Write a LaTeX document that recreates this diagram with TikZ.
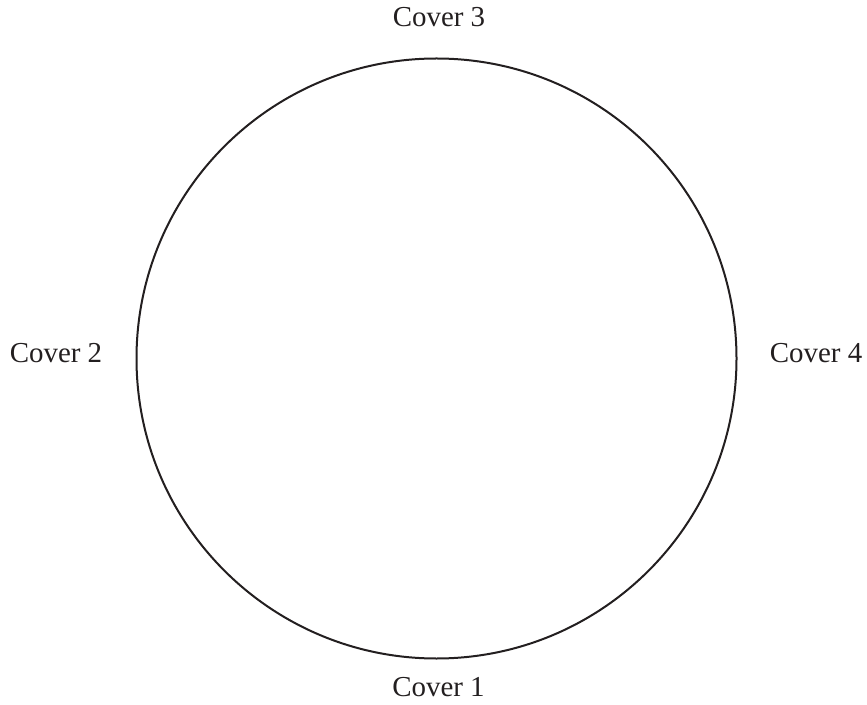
\documentclass[tikz,border=0pt]{standalone}
\usepackage{fontspec}
\setmainfont{Liberation Serif}
\usetikzlibrary{positioning}
\definecolor{ink}{HTML}{231F20}
\tikzset{
  ring/.style={draw=ink, circle, line width=1.5pt, minimum size=450pt, inner sep=0pt},
  lbl/.style={font=\fontsize{21.7}{26}\selectfont, text=ink, inner sep=0pt, anchor=base}
}
\begin{document}
\begin{tikzpicture}[x=0.75pt,y=0.75pt]
  \useasboundingbox (0,0) rectangle (867,704);
  \node[ring] (pitch) at (436.5,345.5) {};
  \node[lbl] (c3) at (439,677) {Cover 3};
  \node[lbl] (c1) at (438.5,8) {Cover 1};
  \node[lbl] (c2) at (56,341) {Cover 2};
  \node[lbl] (c4) at (816,341) {Cover 4};
\end{tikzpicture}
\end{document}
